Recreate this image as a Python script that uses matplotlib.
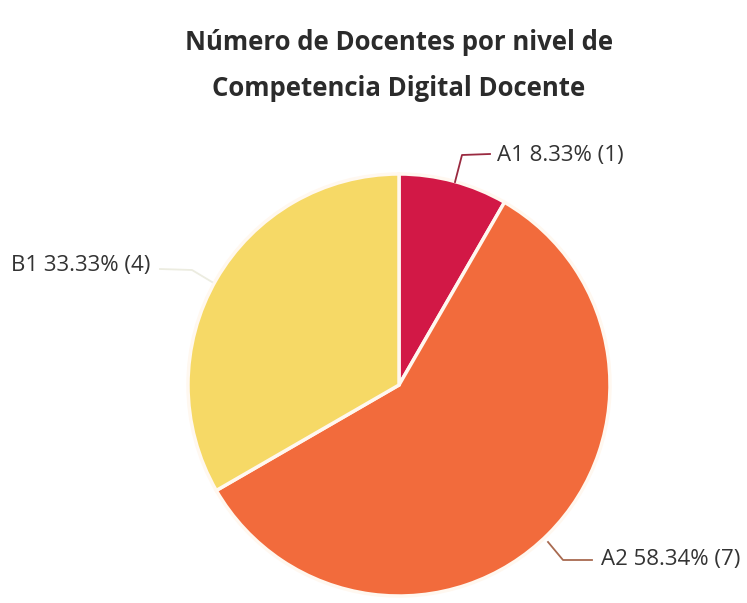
import matplotlib
matplotlib.use("Agg")
import matplotlib.pyplot as plt
import numpy as np

categories = ["A1", "A2", "B1"]
counts = [1, 7, 4]
percents = [8.33, 58.34, 33.33]
colors = ["#D21846", "#F26B3C", "#F6D966"]

plt.rcParams['font.family'] = ['Open Sans', 'DejaVu Sans']

W, H = 747, 603
fig = plt.figure(figsize=(W / 100, H / 100), dpi=100)
fig.patch.set_facecolor("white")

cx, cy, r = 399, 385, 211
ax = fig.add_axes([(cx - r) / W, (H - cy - r) / H, 2 * r / W, 2 * r / H])

wedges, _ = ax.pie(counts, colors=colors, startangle=90, counterclock=False,
                   radius=1.0, wedgeprops=dict(edgecolor="#fff8f0", linewidth=2.5))
ax.set_xlim(-1, 1)
ax.set_ylim(-1, 1)
ax.set_aspect("auto")
ax.axis("off")

fig.text(cx / W, 1 - 42 / H, "Número de Docentes por nivel de", ha="center", va="center",
         fontsize=18.5, fontweight="bold", color="#2b2b2b")
fig.text(cx / W, 1 - 88 / H, "Competencia Digital Docente", ha="center", va="center",
         fontsize=18.5, fontweight="bold", color="#2b2b2b")

def px2data(x, y):
    return ((x - cx) / r, (cy - y) / r)

# leader lines and labels (pixel positions)
label_specs = [
    (0, [(455, 182), (462, 155), (490, 154)], (497, 155), "#9a2a40"),
    (1, [(548, 542), (563, 560), (592, 560)], (601, 559), "#a86a50"),
    (2, [(212, 282), (192, 270), (160, 269)], (11, 266), "#ecece0"),
]
for idx, pts, tpos, lc in label_specs:
    dpts = np.array([px2data(*p) for p in pts])
    ax.plot(dpts[:, 0], dpts[:, 1], color=lc, linewidth=1.3, clip_on=False)
    tx, ty = px2data(*tpos)
    txt = f"{categories[idx]} {percents[idx]:.2f}% ({counts[idx]})"
    ax.text(tx, ty, txt, ha="left", va="center", fontsize=16, color="#333333",
            clip_on=False)

fig.savefig("out.png", dpi=100, facecolor="white")
